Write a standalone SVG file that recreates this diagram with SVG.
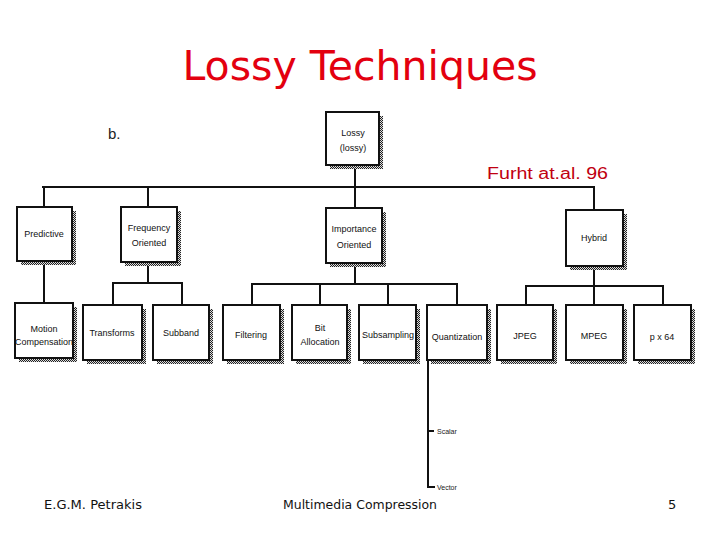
<svg xmlns="http://www.w3.org/2000/svg" width="720" height="540" viewBox="0 0 720 540">
<style>
.box{fill:#fff;stroke:#111;stroke-width:2}
.sh{fill:url(#chk)}
.bt{font-family:"Liberation Sans",Arial,sans-serif;font-size:9px;fill:#111;text-anchor:middle}
.ln{stroke:#111;stroke-width:2;fill:none}
.sm{font-family:"Liberation Sans",Arial,sans-serif;font-size:7px;fill:#222}
.ft{font-family:"DejaVu Sans",sans-serif;font-size:13px;fill:#111}
</style>
<defs>
<pattern id="chk" width="2" height="2" patternUnits="userSpaceOnUse">
<rect width="2" height="2" fill="#ddd"/>
<rect width="1" height="1" fill="#222"/>
<rect x="1" y="1" width="1" height="1" fill="#222"/>
</pattern>
</defs>
<rect width="720" height="540" fill="#fff"/>
<text x="360" y="80" font-family="DejaVu Sans,sans-serif" font-size="41" fill="#e3000f" text-anchor="middle" textLength="355" lengthAdjust="spacingAndGlyphs">Lossy Techniques</text>
<text x="108" y="139" font-family="Liberation Sans,Arial,sans-serif" font-size="15" fill="#222">b.</text>
<text x="487" y="179" font-family="Liberation Sans,Arial,sans-serif" font-size="16" fill="#c00010" textLength="121" lengthAdjust="spacingAndGlyphs">Furht at.al. 96</text>

<g id="connectors">
<path class="ln" d="M355 165V210"/>
<path class="ln" d="M42 187H594V210"/>
<path class="ln" d="M44 187V207"/>
<path class="ln" d="M148 187V207"/>
<path class="ln" d="M44 261V303"/>
<path class="ln" d="M148 262V283M113 305V283H182V305"/>
<path class="ln" d="M355 263V284M252 305V284H457V305M320 284V305M388 284V305"/>
<path class="ln" d="M594 266V286M526 305V286H663V305M594 286V305"/>
<path class="ln" stroke-width="1.5" d="M428 360V487H435M428 431H434"/>
</g>

<g id="lossy"><rect class="sh" x="330" y="116" width="53" height="53"/><rect class="box" x="326" y="112" width="53" height="53"/><text class="bt" x="353" y="136">Lossy</text><text class="bt" x="353" y="151">(lossy)</text></g>
<g id="predictive"><rect class="sh" x="21" y="211" width="55" height="54"/><rect class="box" x="17" y="207" width="55" height="54"/><text class="bt" x="44" y="237">Predictive</text></g>
<g id="frequency"><rect class="sh" x="125" y="211" width="56" height="55"/><rect class="box" x="121" y="207" width="56" height="55"/><text class="bt" x="149" y="231">Frequency</text><text class="bt" x="149" y="246">Oriented</text></g>
<g id="importance"><rect class="sh" x="330" y="212" width="56" height="55"/><rect class="box" x="326" y="208" width="56" height="55"/><text class="bt" x="354" y="232">Importance</text><text class="bt" x="354" y="248">Oriented</text></g>
<g id="hybrid"><rect class="sh" x="570" y="214" width="57" height="56"/><rect class="box" x="566" y="210" width="57" height="56"/><text class="bt" x="594" y="241">Hybrid</text></g>

<g id="motion"><rect class="sh" x="19" y="307" width="58" height="55"/><rect class="box" x="15" y="303" width="58" height="55"/><text class="bt" x="44" y="332">Motion</text><text class="bt" x="44" y="345">Compensation</text></g>
<g id="transforms"><rect class="sh" x="87" y="309" width="59" height="55"/><rect class="box" x="83" y="305" width="59" height="55"/><text class="bt" x="112" y="336">Transforms</text></g>
<g id="subband"><rect class="sh" x="157" y="309" width="56" height="55"/><rect class="box" x="153" y="305" width="56" height="55"/><text class="bt" x="181" y="336">Subband</text></g>
<g id="filtering"><rect class="sh" x="227" y="309" width="57" height="55"/><rect class="box" x="223" y="305" width="57" height="55"/><text class="bt" x="251" y="338">Filtering</text></g>
<g id="bitalloc"><rect class="sh" x="296" y="309" width="55" height="55"/><rect class="box" x="292" y="305" width="55" height="55"/><text class="bt" x="320" y="331" font-size="11">Bit</text><text class="bt" x="320" y="345">Allocation</text></g>
<g id="subsampling"><rect class="sh" x="363" y="309" width="57" height="55"/><rect class="box" x="359" y="305" width="57" height="55"/><text class="bt" x="388" y="338">Subsampling</text></g>
<g id="quantization"><rect class="sh" x="431" y="309" width="60" height="55"/><rect class="box" x="427" y="305" width="60" height="55"/><text class="bt" x="457" y="340" font-size="8">Quantization</text></g>
<g id="jpeg"><rect class="sh" x="501" y="309" width="56" height="55"/><rect class="box" x="497" y="305" width="56" height="55"/><text class="bt" x="525" y="339">JPEG</text></g>
<g id="mpeg"><rect class="sh" x="570" y="309" width="57" height="55"/><rect class="box" x="566" y="305" width="57" height="55"/><text class="bt" x="594" y="339">MPEG</text></g>
<g id="px64"><rect class="sh" x="638" y="309" width="57" height="55"/><rect class="box" x="634" y="305" width="57" height="55"/><text class="bt" x="662" y="340">p x 64</text></g>

<text class="sm" x="437" y="434">Scalar</text>
<text class="sm" x="437" y="490">Vector</text>

<text class="ft" x="44" y="509" textLength="98" lengthAdjust="spacingAndGlyphs">E.G.M. Petrakis</text>
<text class="ft" x="283" y="509" textLength="154" lengthAdjust="spacingAndGlyphs">Multimedia Compression</text>
<text class="ft" x="668" y="509">5</text>
</svg>
